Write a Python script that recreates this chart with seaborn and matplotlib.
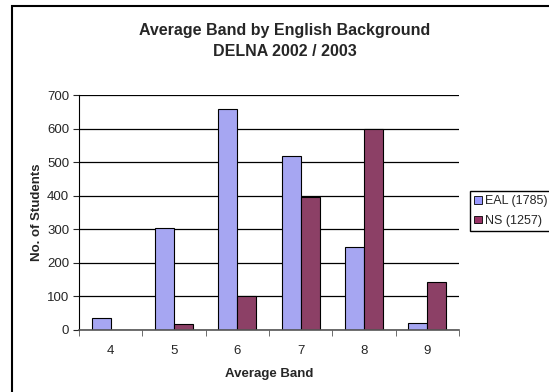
import numpy as np
import pandas as pd
import matplotlib
matplotlib.use('Agg')
import matplotlib.pyplot as plt
import seaborn as sns
from matplotlib.patches import Rectangle
from matplotlib.ticker import FixedLocator

# Values
bands = ['4', '5', '6', '7', '8', '9']
eal = [37, 303, 658, 519, 248, 20]
ns = [0, 18, 101, 397, 598, 143]
series_names = ['EAL (1785)', 'NS (1257)']
colors = ['#9999FF', '#993366']

df = pd.DataFrame({
    'band': bands * 2,
    'students': eal + ns,
    'group': [series_names[0]] * len(bands) + [series_names[1]] * len(bands),
})

sns.set_style('white')
plt.rcParams['font.family'] = ['Liberation Sans', 'DejaVu Sans']

fig = plt.figure(figsize=(5.49, 3.92), dpi=100)
ax = fig.add_axes([79 / 549, 1 - 330 / 392, 380 / 549, 235 / 392])

sns.barplot(data=df, x='band', y='students', hue='group', palette=colors,
            width=0.6, edgecolor='black', linewidth=0.8, ax=ax)

ax.set_ylim(0, 700)
ax.set_xlim(-0.5, len(bands) - 0.5)
ax.set_yticks(range(0, 701, 100))
ax.yaxis.grid(True, color='black', linewidth=0.9)
ax.set_axisbelow(True)
for s in ['top', 'right']:
    ax.spines[s].set_visible(False)
ax.spines['left'].set_color('black')
ax.spines['bottom'].set_color('#555555')
ax.spines['bottom'].set_linewidth(1.2)

# x ticks sit between categories, like Excel
ax.xaxis.set_minor_locator(FixedLocator(np.arange(-0.5, len(bands), 1)))
ax.tick_params(axis='x', which='minor', length=4, color='#555555', direction='out', bottom=True)
ax.tick_params(axis='x', which='major', length=0, labelsize=9.5, pad=11)
ax.tick_params(axis='y', length=4, direction='out', labelsize=9.5, pad=3, left=True)

ax.set_xlabel('Average Band', fontsize=9.5, fontweight='bold', labelpad=8)
ax.set_ylabel('No. of Students', fontsize=9.5, fontweight='bold', labelpad=0)
ax.yaxis.set_label_coords(-36 / 380, 0.5)

fig.text(285 / 549, 1 - 41 / 392, 'Average Band by English Background\nDELNA 2002 / 2003',
         ha='center', va='center', fontsize=11.5, fontweight='bold', linespacing=1.5)

ax.legend_.remove()
handles = [Rectangle((0, 0), 1, 1, facecolor=c, edgecolor='black', linewidth=0.6) for c in colors]
fig.legend(handles, series_names, loc='upper left', bbox_to_anchor=(470 / 549, 1 - 191 / 392),
           fontsize=9, frameon=True, fancybox=False, edgecolor='black', framealpha=1,
           handlelength=0.6, handleheight=0.6, handletextpad=0.25, borderpad=0.35,
           borderaxespad=0, labelspacing=0.6)

# outer chart border, running off the right and bottom edges
fig.patches.append(Rectangle((12 / 549, -0.1), 1.2, 1.1 - 6 / 392, transform=fig.transFigure,
                             fill=False, edgecolor='black', linewidth=1.5))

fig.savefig('out.png', dpi=100)
